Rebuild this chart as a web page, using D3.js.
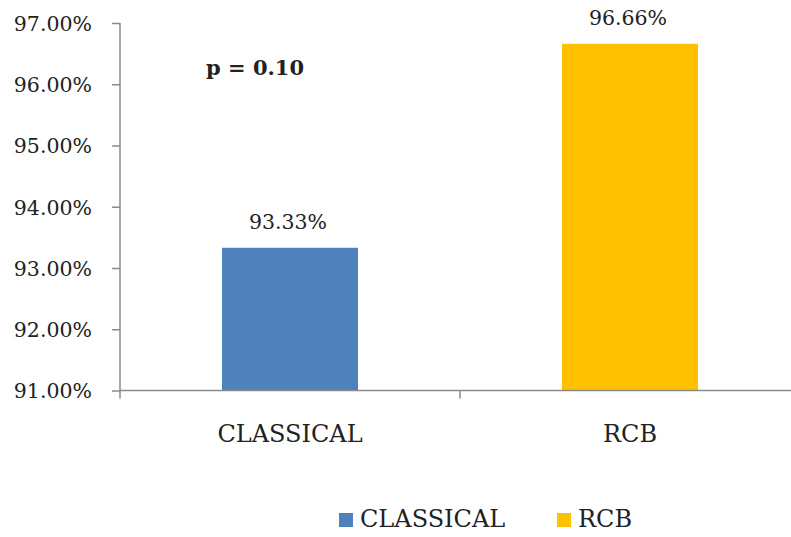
<!DOCTYPE html>
<html>
<head>
<meta charset="utf-8">
<script src="https://cdn.jsdelivr.net/npm/d3@7"></script>
<style>
  html, body { margin: 0; padding: 0; background: #fff; }
  svg { display: block; }
  text { font-family: "DejaVu Serif", serif; fill: #222; }
</style>
</head>
<body>
<svg id="chart" width="791" height="537"></svg>
<script>
// Outcome rate by technique
const categories = ["CLASSICAL", "RCB"];
const values = [93.33, 96.66];
const colors = ["#4F81BD", "#FFC000"];
const yTicks = [91, 92, 93, 94, 95, 96, 97];
const annotation = "p = 0.10";

const svg = d3.select("#chart");
const axisColor = "#8a8a8a";

const x = d3.scaleBand()
  .domain(categories)
  .range([120, 800])
  .paddingInner(0.6)
  .paddingOuter(0.3);

const y = d3.scaleLinear()
  .domain([91, 97])
  .range([390.5, 23]);

const fmt = v => v.toFixed(2) + "%";

// bars
svg.selectAll("rect.bar")
  .data(categories)
  .join("rect")
  .attr("class", "bar")
  .attr("x", d => x(d))
  .attr("width", x.bandwidth())
  .attr("y", (d, i) => y(values[i]))
  .attr("height", (d, i) => y(91) - y(values[i]))
  .attr("fill", (d, i) => colors[i]);

// value labels
svg.selectAll("text.val")
  .data(categories)
  .join("text")
  .attr("class", "val")
  .attr("x", d => x(d) + x.bandwidth() / 2 - 2)
  .attr("y", (d, i) => y(values[i]) - 18.5)
  .attr("text-anchor", "middle")
  .attr("font-size", 20.5)
  .text((d, i) => fmt(values[i]));

// y axis
const yAxis = d3.axisLeft(y)
  .tickValues(yTicks)
  .tickSize(8)
  .tickPadding(20)
  .tickFormat(fmt);
const gy = svg.append("g").attr("transform", "translate(120,0)").call(yAxis);
gy.select(".domain").attr("stroke", axisColor).attr("stroke-width", 1.5).attr("d", `M0,${y(97)}V${y(91)}`);
gy.selectAll(".tick line").attr("stroke", axisColor).attr("stroke-width", 1.5);
gy.selectAll(".tick text")
  .attr("font-family", "DejaVu Serif, serif")
  .attr("font-size", 20.5)
  .attr("fill", "#222")
  .attr("dy", "0.36em");

// x axis: boundary ticks between categories
const gx = svg.append("g").attr("transform", `translate(0,${y(91)})`);
gx.append("line")
  .attr("x1", 120).attr("x2", 800)
  .attr("stroke", axisColor).attr("stroke-width", 1.5);
const step = x.step();
const bounds = [120, 120 + step, 120 + 2 * step];
gx.selectAll("line.tk")
  .data(bounds)
  .join("line")
  .attr("class", "tk")
  .attr("x1", d => d).attr("x2", d => d)
  .attr("y1", 0).attr("y2", 8)
  .attr("stroke", axisColor).attr("stroke-width", 1.5);
gx.selectAll("text.cat")
  .data(categories)
  .join("text")
  .attr("class", "cat")
  .attr("x", d => x(d) + x.bandwidth() / 2)
  .attr("y", 51)
  .attr("text-anchor", "middle")
  .attr("font-size", 24)
  .text(d => d);

// annotation
svg.append("text")
  .attr("x", 206)
  .attr("y", 75)
  .attr("font-size", 21)
  .attr("font-weight", "bold")
  .attr("fill", "#111")
  .text(annotation);

// legend
const legendItems = [
  { label: categories[0], color: colors[0], x: 339 },
  { label: categories[1], color: colors[1], x: 557 }
];
const lg = svg.append("g");
const li = lg.selectAll("g").data(legendItems).join("g")
  .attr("transform", d => `translate(${d.x},513)`);
li.append("rect").attr("width", 14).attr("height", 14).attr("fill", d => d.color);
li.append("text")
  .attr("x", 21).attr("y", 14)
  .attr("font-size", 24)
  .text(d => d.label);
</script>
</body>
</html>
